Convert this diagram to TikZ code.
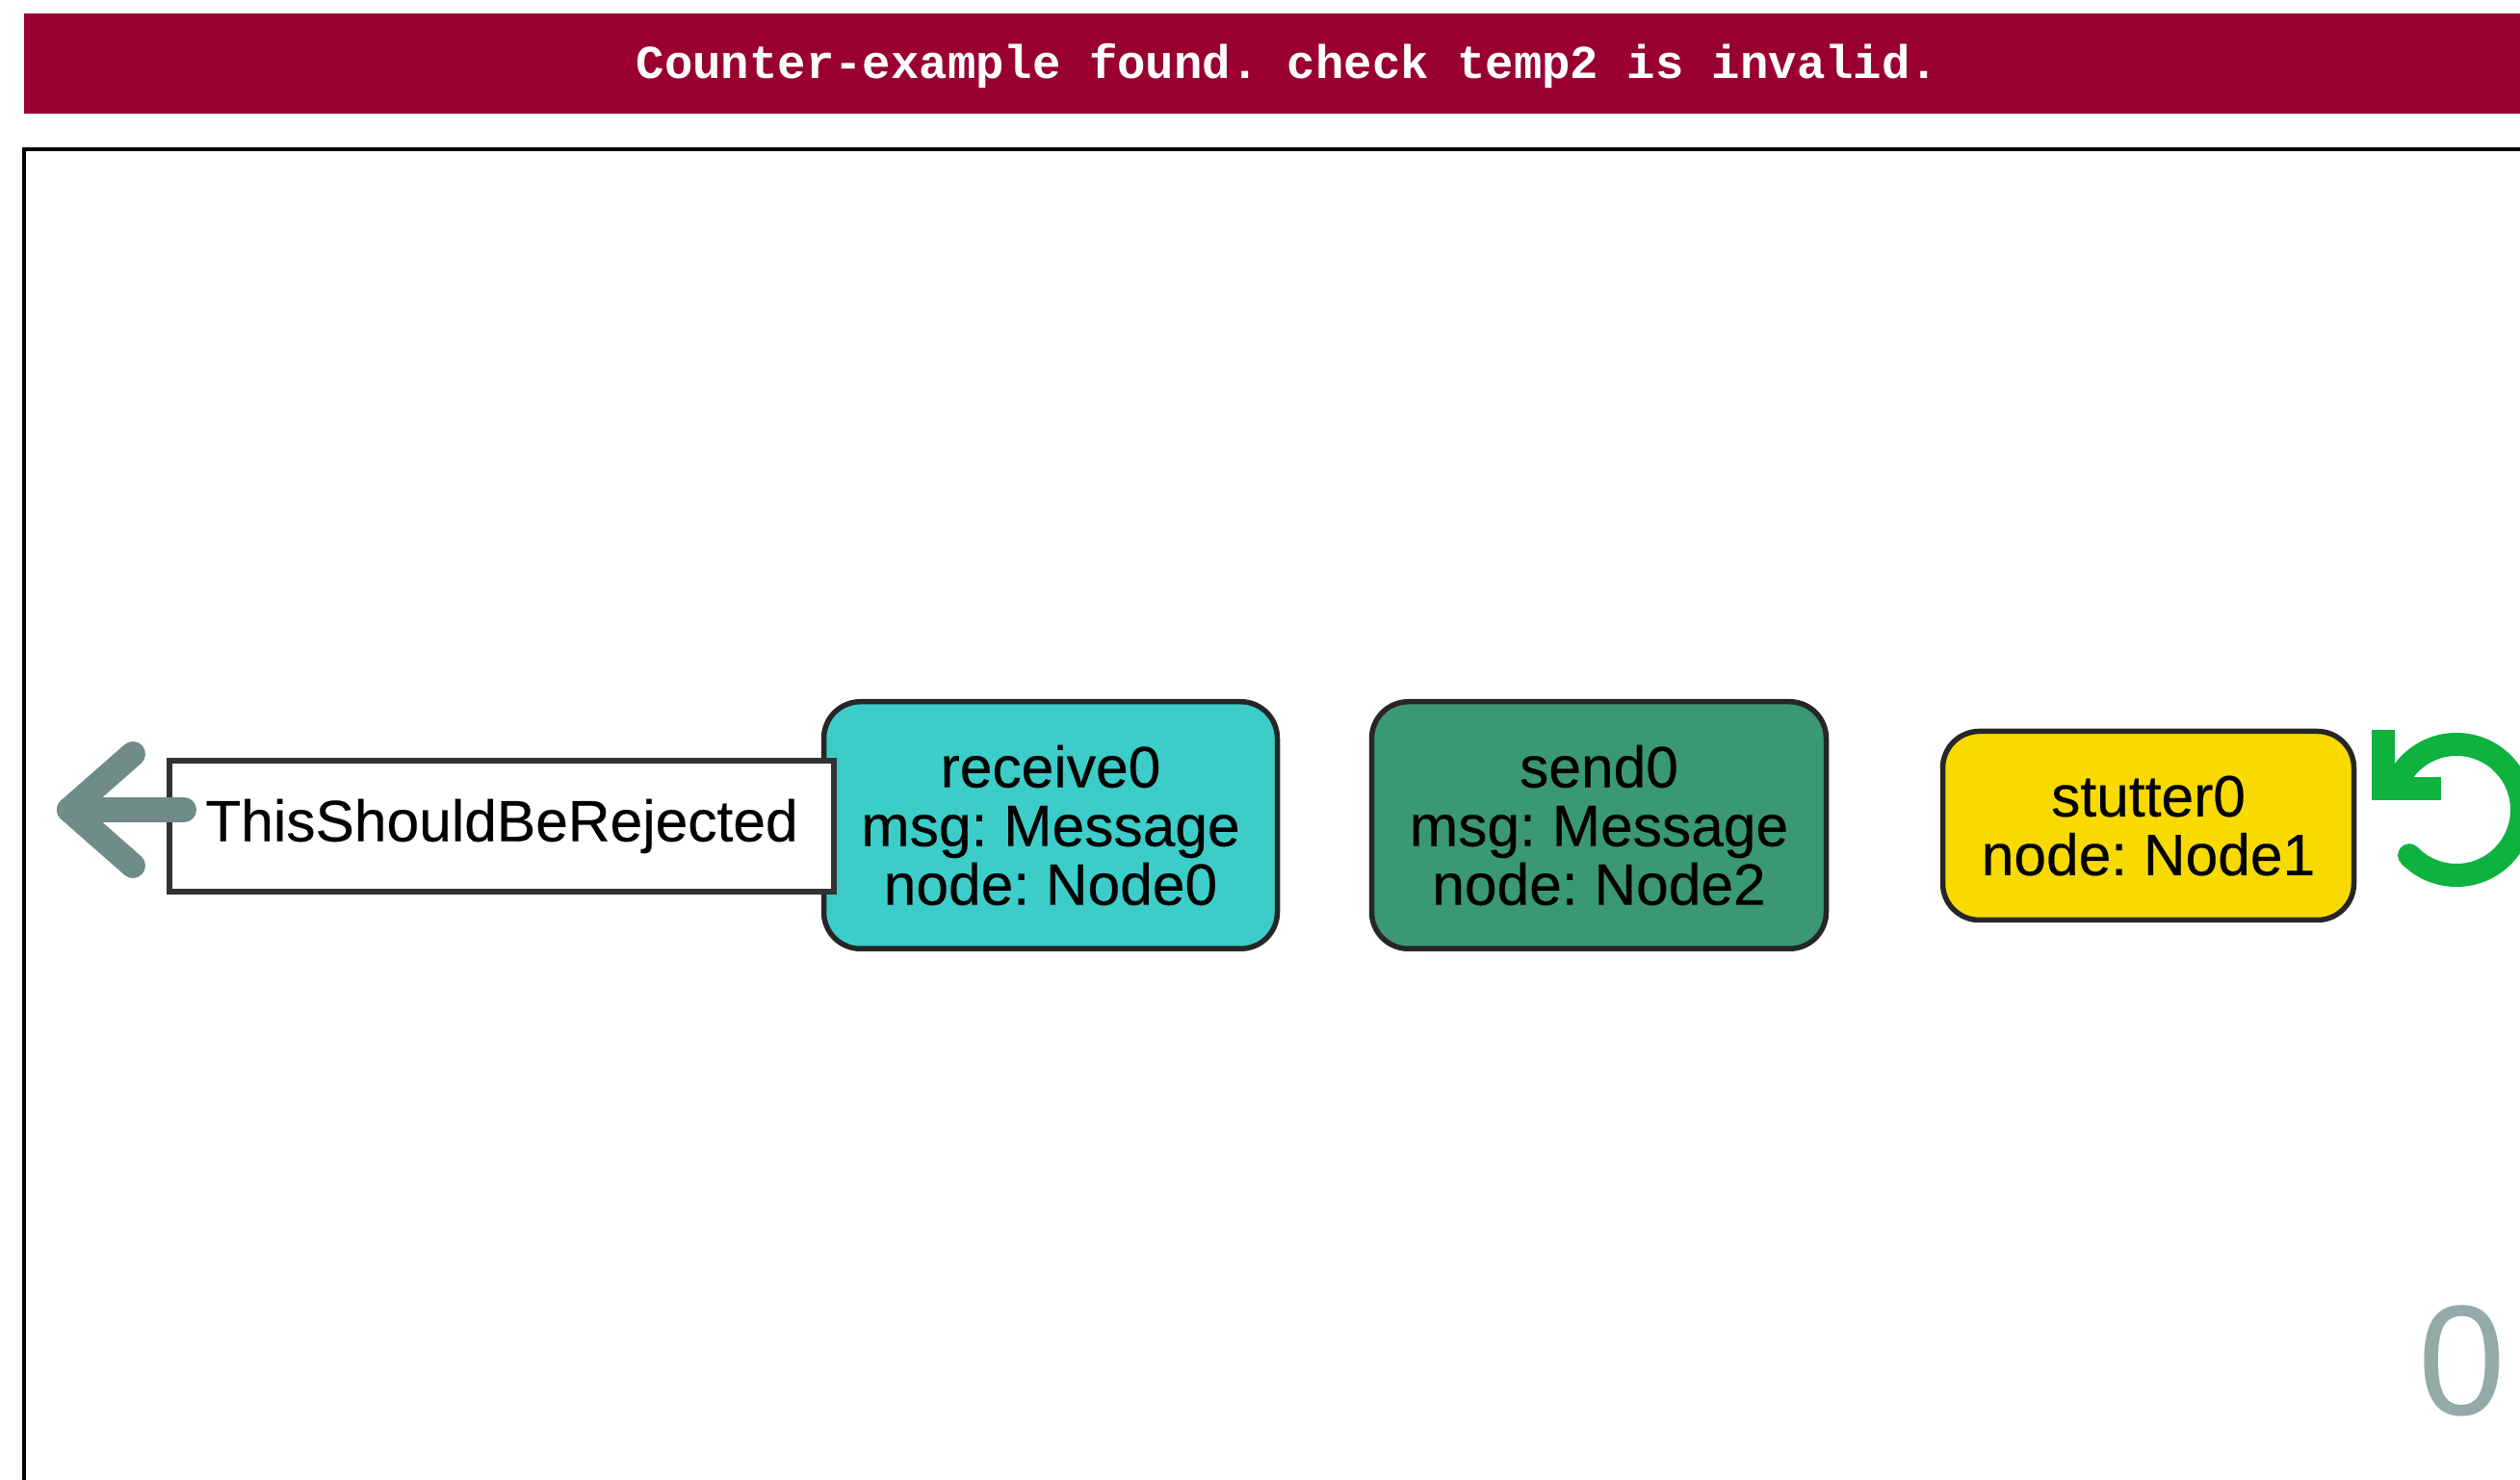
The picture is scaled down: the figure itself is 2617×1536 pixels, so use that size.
\documentclass[tikz,border=0pt]{standalone}
\usepackage{fontspec}
\setmainfont{Liberation Sans}[FakeBold=0.35]
\newfontfamily\plainsans{Liberation Sans}
\newfontfamily\bannerfont{Liberation Mono}
\definecolor{bannerred}{HTML}{990030}
\definecolor{turq}{HTML}{3CCDC9}
\definecolor{sendgreen}{HTML}{3A9972}
\definecolor{stutyellow}{HTML}{F8DA00}
\definecolor{arrowgrey}{HTML}{6F8C87}
\definecolor{loopgreen}{HTML}{0DB23F}
\definecolor{zerogrey}{HTML}{94AAA7}
\definecolor{edgedark}{HTML}{262626}
\definecolor{rejedge}{HTML}{333333}
\frenchspacing
\begin{document}
\begin{tikzpicture}[x=1pt,y=1pt,
  evbox/.style={draw=edgedark, line width=5.5pt, rounded corners=38pt, inner sep=0pt,
    align=center, font=\fontsize{60.5}{61}\selectfont, minimum height=256.5pt},
  rejbox/.style={draw=rejedge, line width=6pt, fill=white, inner sep=0pt,
    minimum width=690pt, minimum height=136pt, font=\fontsize{60.5}{61}\selectfont},
  backarrow/.style={draw=arrowgrey, line width=26pt, line cap=round, line join=round},
  loopicon/.style={draw=loopgreen, line width=24pt},
  frameline/.style={draw=black, line width=3.5pt}
]
\useasboundingbox (0,0) rectangle (2617,1536);
\clip (0,0) rectangle (2617,1536);
\fill[white] (0,0) rectangle (2617,1536);

% banner
\fill[bannerred] (25,1418) rectangle (2640,1522);
\node[text=white, anchor=base, inner sep=0pt,
  font=\bannerfont\bfseries\fontsize{49}{49}\selectfont] (msg) at (1337,1454)
  {Counter-example found. check temp2 is invalid.};

% frame
\draw[frameline] (25,-20) -- (25,1381) -- (2640,1381);

% event boxes
\node[evbox, fill=turq, minimum width=471pt] (recv) at (1091,679)
  {receive0\\msg: Message\\node: Node0};
\node[evbox, fill=sendgreen, minimum width=472pt] (send) at (1660.5,679)
  {send0\\msg: Message\\node: Node2};
\node[evbox, fill=stutyellow, minimum width=427pt, minimum height=196pt] (stut) at (2231,678.5)
  {stutter0\\node: Node1};
\node[rejbox] (rej) at (521,678) {ThisShouldBeRejected};

% back arrow
\coordinate (tip) at (72,695);
\draw[backarrow] (tip -| rej.west) ++(18,0) -- (tip);
\draw[backarrow] (tip) ++(66,58) -- (tip) -- ++(66,-58);

% loop icon
\coordinate (loopc) at (2551,695);
\draw[loopicon, line cap=round] (loopc) ++(-136:68) arc[start angle=-136, end angle=152, radius=68] -- (2478,719);
\draw[loopicon, line join=miter] (2474.5,778) -- (2474.5,717) -- (2535,717);

% counter
\node[text=zerogrey, anchor=base, inner sep=0pt, font=\plainsans\fontsize{163}{163}\selectfont] (count) at (2557,66) {0};
\end{tikzpicture}
\end{document}
